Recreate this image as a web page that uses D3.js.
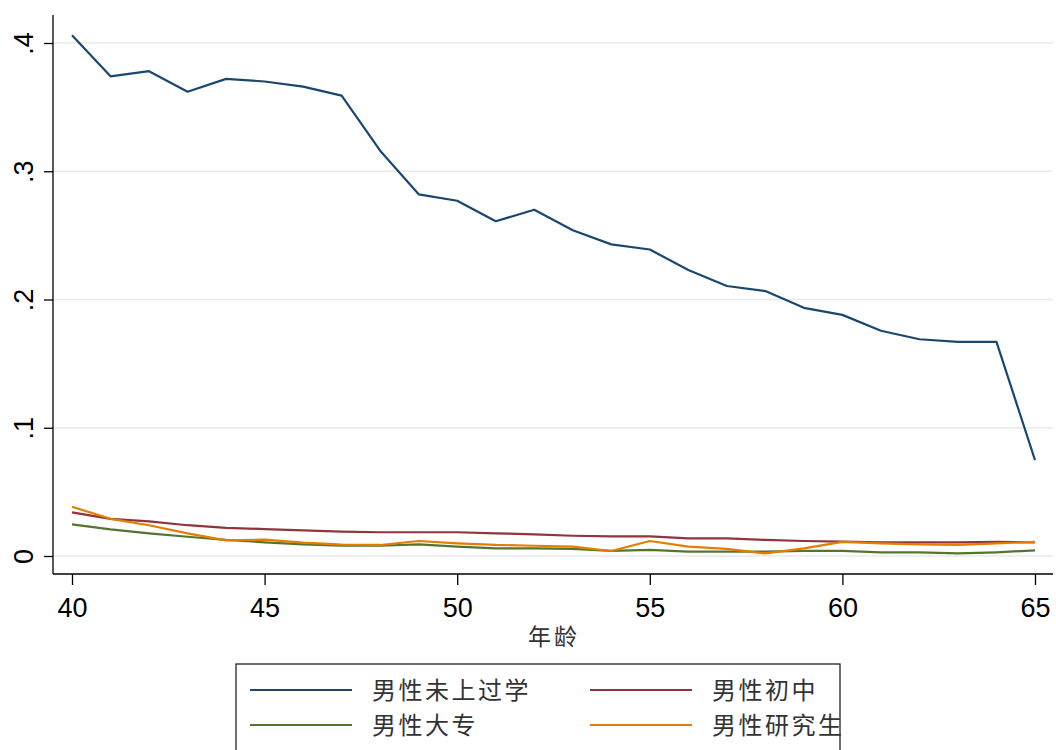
<!DOCTYPE html>
<html><head><meta charset="utf-8">
<script src="https://cdn.jsdelivr.net/npm/d3@7"></script>
<style>body{margin:0;background:#fff;}svg{display:block;}</style>
</head><body>
<svg id="chart" width="1056" height="750"></svg>
<script>
const ages = d3.range(40, 66);
const seriesNames = ["男性未上过学", "男性初中", "男性大专", "男性研究生"];
const noSchool = [0.406,0.374,0.378,0.362,0.372,0.370,0.366,0.359,0.316,0.282,0.277,0.261,0.270,0.254,0.243,0.239,0.223,0.2105,0.2066,0.1935,0.188,0.1756,0.169,0.167,0.167,0.0748];
const juniorHigh = [0.034,0.029,0.027,0.024,0.022,0.021,0.020,0.019,0.0185,0.0185,0.0185,0.0177,0.0169,0.0158,0.0153,0.0153,0.0138,0.0138,0.0125,0.0117,0.0112,0.0107,0.0107,0.0107,0.011,0.0107];
const college = [0.0247,0.0208,0.0177,0.015,0.0125,0.0107,0.0091,0.008,0.008,0.0091,0.0073,0.006,0.006,0.0055,0.004,0.0047,0.0034,0.0034,0.0034,0.004,0.004,0.0029,0.0029,0.002,0.0029,0.0044];
const graduate = [0.0384,0.029,0.024,0.0177,0.0122,0.0128,0.0104,0.0088,0.0086,0.0117,0.0099,0.0086,0.008,0.0073,0.0039,0.0117,0.0073,0.0055,0.002,0.006,0.011,0.0099,0.009,0.0086,0.0099,0.011];
const colors = ["#1a476f", "#90353b", "#55752f", "#e37e00"];
const yTicks = [0, 0.1, 0.2, 0.3, 0.4];
const yTickLabels = ["0", ".1", ".2", ".3", ".4"];
const xTicks = [40, 45, 50, 55, 60, 65];
const xTitle = "年龄";

const allSeries = [noSchool, juniorHigh, college, graduate];
const svg = d3.select("#chart");
const x = d3.scaleLinear().domain([40, 65]).range([72, 1035]);
const y = d3.scaleLinear().domain([0, 0.4]).range([556, 43]);
const axisLeftX = 53, axisBottomY = 574, plotRight = 1053, plotTop = 15;
const numFont = "Arial, 'Liberation Sans', sans-serif";
const cjkFont = "'Noto Sans CJK SC', sans-serif";

// gridlines
svg.append("g").selectAll("line").data(yTicks).join("line")
  .attr("x1", axisLeftX).attr("x2", plotRight)
  .attr("y1", d => y(d)).attr("y2", d => y(d))
  .attr("stroke", "#eaeaea").attr("stroke-width", 1.5);

// lines
const line = d3.line().x((d, i) => x(ages[i])).y(d => y(d));
svg.append("g").selectAll("path").data(allSeries).join("path")
  .attr("d", d => line(d)).attr("fill", "none")
  .attr("stroke", (d, i) => colors[i]).attr("stroke-width", 2.2)
  .attr("stroke-linejoin", "round");

// y axis
const yAxis = d3.axisLeft(y).tickValues(yTicks).tickSize(9).tickPadding(6)
  .tickFormat((d, i) => yTickLabels[i]);
const gy = svg.append("g").attr("transform", `translate(${axisLeftX},0)`).call(yAxis);
gy.select(".domain").remove();
gy.append("line").attr("x1", 0).attr("x2", 0).attr("y1", plotTop).attr("y2", axisBottomY)
  .attr("stroke", "#000").attr("stroke-width", 1.3);
gy.selectAll(".tick line").attr("stroke", "#000").attr("stroke-width", 1.3);
gy.selectAll(".tick text")
  .attr("font-family", numFont).attr("font-size", 27).attr("fill", "#000")
  .attr("x", null).attr("dy", null).attr("y", 0)
  .attr("text-anchor", "middle")
  .attr("transform", "translate(-20,0) rotate(-90)");

// x axis
const xAxis = d3.axisBottom(x).tickValues(xTicks).tickSize(11).tickPadding(8).tickFormat(d3.format("d"));
const gx = svg.append("g").attr("transform", `translate(0,${axisBottomY})`).call(xAxis);
gx.select(".domain").remove();
gx.append("line").attr("x1", axisLeftX).attr("x2", plotRight).attr("y1", 0).attr("y2", 0)
  .attr("stroke", "#000").attr("stroke-width", 1.3);
gx.selectAll(".tick line").attr("stroke", "#000").attr("stroke-width", 1.3);
gx.selectAll(".tick text").attr("font-family", numFont).attr("font-size", 27).attr("fill", "#000")
  .attr("dy", null).attr("y", 43);

// x title
svg.append("text").attr("x", 554).attr("y", 645)
  .attr("text-anchor", "middle").attr("font-family", cjkFont).attr("font-size", 23)
  .attr("letter-spacing", 3).attr("fill", "#333").text(xTitle);

// legend
const lg = svg.append("g");
lg.append("rect").attr("x", 236).attr("y", 664).attr("width", 604).attr("height", 100)
  .attr("fill", "#fff").attr("stroke", "#222").attr("stroke-width", 1.3);
const legendPos = [[250, 690], [590, 690], [250, 725], [590, 725]];
seriesNames.forEach((name, i) => {
  const [lx, ly] = legendPos[i];
  lg.append("line").attr("x1", lx).attr("x2", lx + 102).attr("y1", ly).attr("y2", ly)
    .attr("stroke", colors[i]).attr("stroke-width", 2.2);
  lg.append("text").attr("x", lx + 122).attr("y", ly + 9)
    .attr("font-family", cjkFont).attr("font-size", 24).attr("letter-spacing", 2.5)
    .attr("fill", "#333").text(name);
});
</script>
</body></html>
